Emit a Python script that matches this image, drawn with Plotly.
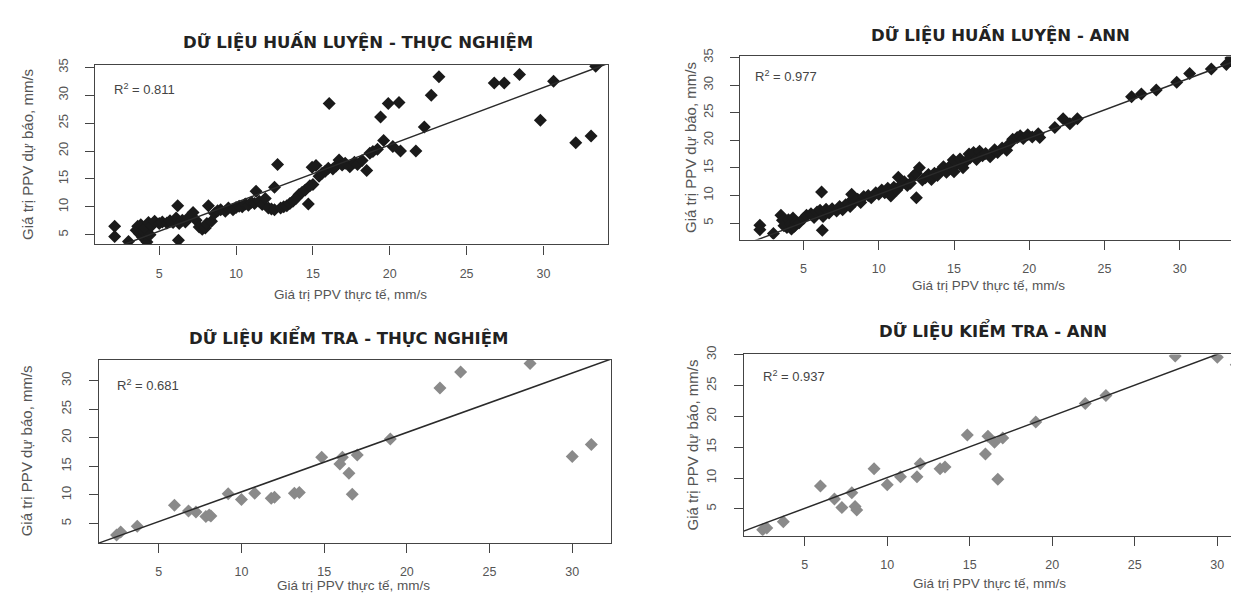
import plotly.graph_objects as go

# ---------------- DATA ----------------
# Training set: actual PPV (x), experimental-formula prediction (y1), ANN prediction (y2)
train_actual = [2.1, 2.1, 3.0, 3.5, 3.6, 3.7, 3.8, 3.9, 4.0, 4.1, 4.2, 4.3, 4.4, 4.5, 4.7,
                5.0, 5.2, 5.5, 5.7, 5.9, 6.1, 6.2, 6.25, 6.3, 6.5, 6.7, 6.9, 7.2, 7.4, 7.6,
                7.8, 8.0, 8.1, 8.2, 8.4, 8.6, 8.8, 9.0, 9.3, 9.5, 9.8, 10.0, 10.2, 10.4, 10.6,
                10.8, 11.0, 11.2, 11.3, 11.5, 11.7, 11.9, 12.1, 12.3, 12.5, 12.5, 12.7, 12.9,
                13.1, 13.3, 13.5, 13.7, 13.9, 14.1, 14.3, 14.5, 14.7, 14.8, 14.95, 15.0, 15.2,
                15.4, 15.6, 15.8, 16.0, 16.06, 16.3, 16.5, 16.7, 16.9, 17.1, 17.4, 17.7, 17.9,
                18.2, 18.5, 18.7, 18.9, 19.2, 19.4, 19.6, 19.9, 20.2, 20.6, 20.7, 21.7, 22.25,
                22.7, 23.2, 26.8, 27.45, 28.44, 29.8, 30.66, 32.1, 33.1, 33.4]
train_exp = [6.5, 4.7, 3.8, 5.8, 6.5, 5.2, 6.8, 4.6, 5.5, 6.2, 3.7, 7.2, 5.0, 6.6, 7.4,
             7.0, 7.3, 7.1, 7.5, 7.2, 8.0, 10.2, 4.0, 7.0, 7.6, 7.3, 8.1, 9.0, 7.6, 6.4,
             6.0, 6.2, 7.0, 10.2, 7.4, 8.8, 9.3, 9.5, 9.2, 9.8, 9.5, 9.9, 10.1, 10.0, 10.5,
             10.3, 10.8, 10.6, 12.8, 11.0, 10.4, 11.5, 9.8, 9.6, 9.5, 13.5, 17.6, 9.8,
             10.0, 10.2, 10.6, 11.0, 11.5, 12.2, 12.6, 13.0, 10.5, 13.8, 17.1, 14.0, 17.4,
             15.5, 16.0, 16.4, 16.9, 28.5, 16.8, 17.3, 18.4, 17.5, 17.8, 17.2, 18.0, 17.6,
             18.3, 16.5, 19.6, 19.9, 20.3, 26.1, 21.9, 28.5, 20.8, 28.7, 20.0, 20.0, 24.3,
             30.0, 33.3, 32.2, 32.2, 33.7, 25.5, 32.5, 21.5, 22.7, 35.2]
train_ann = [4.6, 3.8, 3.1, 6.4, 5.5, 4.5, 5.2, 4.2, 5.6, 4.8, 3.9, 5.9, 4.4, 5.2, 5.0,
             5.8, 6.4, 6.7, 6.0, 7.0, 7.3, 10.6, 3.7, 6.2, 7.5, 6.8, 7.6, 7.2, 8.0, 7.4,
             8.3, 8.6, 8.0, 10.2, 8.9, 9.3, 8.7, 9.8, 10.0, 9.6, 10.5, 10.2, 11.0, 10.5, 11.3,
             9.9, 11.5, 11.0, 13.3, 12.0, 12.5, 11.8, 12.2, 13.5, 9.6, 14.0, 15.0, 12.8,
             13.2, 13.8, 12.9, 14.0, 13.6, 14.5, 15.2, 14.2, 14.8, 15.5, 16.4, 14.3, 15.8,
             16.6, 15.0, 16.2, 17.5, 16.8, 17.8, 16.5, 18.0, 17.2, 17.6, 17.0, 18.3, 17.8,
             18.6, 18.2, 19.4, 20.2, 20.5, 20.8, 20.3, 21.0, 20.6, 21.2, 20.5, 22.3, 23.9,
             23.0, 23.9, 27.9, 28.4, 29.1, 30.5, 32.1, 32.9, 33.75, 34.9]

# Test set
test_actual = [2.45, 2.7, 3.7, 5.95, 6.8, 7.25, 7.85, 8.05, 8.15, 9.2, 10.0, 10.8, 11.8, 12.0,
               13.2, 13.5, 14.85, 15.95, 16.1, 16.5, 16.7, 17.0, 19.0, 22.0, 23.25, 27.45,
               30.0, 31.15]
test_exp = [3.0, 3.5, 4.5, 8.2, 7.2, 7.0, 6.2, 6.5, 6.3, 10.2, 9.2, 10.3, 9.4, 9.6,
            10.3, 10.4, 16.6, 15.4, 16.6, 13.8, 10.1, 17.0, 19.8, 28.7, 31.5, 33.0,
            16.7, 18.8]
test_ann = [1.6, 1.9, 2.9, 8.7, 6.6, 5.2, 7.6, 5.4, 4.8, 11.5, 8.9, 10.2, 10.2, 12.3,
            11.5, 11.8, 17.0, 13.9, 16.8, 15.8, 9.8, 16.5, 19.1, 22.1, 23.4, 29.8,
            29.6, 28.4]

panel_titles = ["DỮ LIỆU HUẤN LUYỆN - THỰC NGHIỆM", "DỮ LIỆU HUẤN LUYỆN - ANN",
                "DỮ LIỆU KIỂM TRA - THỰC NGHIỆM", "DỮ LIỆU KIỂM TRA - ANN"]
r2_values = ["0.811", "0.977", "0.681", "0.937"]
fit_slope = [1.03, 1.02, 1.04, 1.0]
fit_intercept = [0.48, 0.0, 0.13, 0.08]
x_tick_vals = [5, 10, 15, 20, 25, 30]
y_tick_vals_train = [5, 10, 15, 20, 25, 30, 35]
y_tick_vals_test = [5, 10, 15, 20, 25, 30]
x_title = "Giá trị PPV thực tế, mm/s"
y_title = "Giá trị PPV dự báo, mm/s"

# ---------------- LAYOUT ----------------
W, H = 1239, 593
# pixel boxes: left, right, top, bottom
boxes = [(87.3, 600.0, 48.3, 231.0), (732.0, 1239.0, 40.0, 226.0),
         (90.7, 603.3, 348.3, 534.3), (735.7, 1239.0, 342.7, 526.7)]
x_ranges = [[0.84, 34.2], [0.78, 34.47], [1.37, 32.36], [1.3, 31.8]]
y_ranges = [[3.25, 35.5], [2.0, 35.2], [1.55, 33.6], [0.64, 30.05]]
cut_right = [False, True, False, True]

datasets = [(train_actual, train_exp, "#1a1a1a"), (train_actual, train_ann, "#1a1a1a"),
            (test_actual, test_exp, "#8a8a8a"), (test_actual, test_ann, "#8a8a8a")]

title_pos = [(350, 25), (992, 18), (340, 325), (985, 318)]
xtitle_pos = [(342, 282), (980, 273), (345, 577), (982, 575)]
ytitle_pos = [(20, 140), (683, 133), (18, 441), (684, 435)]
r2_pos = [(104, 73), (745, 60), (106.7, 373.3), (753.3, 365)]

fig = go.Figure()
font_fam = "Liberation Sans, Arial, sans-serif"
title_fam = "DejaVu Sans, Liberation Sans, sans-serif"

for i in range(4):
    l, r, t, b = boxes[i]
    sfx = "" if i == 0 else str(i + 1)
    xa = "x" + sfx
    ya = "y" + sfx
    xs, ys, col = datasets[i]
    fig.add_trace(go.Scatter(x=xs, y=ys, mode="markers", xaxis=xa, yaxis=ya,
                             marker=dict(symbol="diamond", size=10, color=col,
                                         line=dict(width=0)),
                             showlegend=False, hoverinfo="x+y"))
    x0, x1 = x_ranges[i]
    fig.add_trace(go.Scatter(x=[x0, x1],
                             y=[fit_intercept[i] + fit_slope[i] * x0,
                                fit_intercept[i] + fit_slope[i] * x1],
                             mode="lines", xaxis=xa, yaxis=ya,
                             line=dict(color="#2a2a2a", width=1.5),
                             showlegend=False, hoverinfo="skip"))
    yticks = y_tick_vals_train if i < 2 else y_tick_vals_test
    fig.layout["xaxis" + sfx] = dict(
        domain=[l / W, r / W], anchor=ya, range=x_ranges[i],
        tickvals=x_tick_vals, ticks="outside", ticklen=9, tickcolor="#444",
        tickfont=dict(size=12.5, color="#555", family=font_fam),
        showline=True, linecolor="#444", linewidth=1.3, mirror=True,
        showgrid=False, zeroline=False, ticklabelstandoff=8)
    fig.layout["yaxis" + sfx] = dict(
        domain=[(H - b) / H, (H - t) / H], anchor=xa, range=y_ranges[i],
        tickvals=yticks, ticks="outside", ticklen=9, tickcolor="#444",
        tickangle=-90,
        tickfont=dict(size=13, color="#555", family=font_fam),
        showline=True, linecolor="#444", linewidth=1.3,
        mirror=False if cut_right[i] else True,
        showgrid=False, zeroline=False, ticklabelstandoff=12)

    # Panel title
    fig.add_annotation(text="<b>" + panel_titles[i] + "</b>", xref="paper", yref="paper",
                       x=title_pos[i][0] / W, y=1 - title_pos[i][1] / H,
                       xanchor="center", yanchor="middle", showarrow=False,
                       font=dict(size=16.5, color="#222", family=title_fam))
    fig.add_annotation(text=x_title, xref="paper", yref="paper",
                       x=xtitle_pos[i][0] / W, y=1 - xtitle_pos[i][1] / H,
                       xanchor="center", yanchor="middle", showarrow=False,
                       font=dict(size=13.5, color="#555", family=font_fam))
    fig.add_annotation(text=y_title, xref="paper", yref="paper",
                       x=ytitle_pos[i][0] / W, y=1 - ytitle_pos[i][1] / H,
                       xanchor="center", yanchor="middle", showarrow=False, textangle=-90,
                       font=dict(size=15, color="#555", family=font_fam))
    fig.add_annotation(text="R<sup>2</sup> = " + r2_values[i], xref="paper", yref="paper",
                       x=r2_pos[i][0] / W, y=1 - r2_pos[i][1] / H,
                       xanchor="left", yanchor="middle", showarrow=False,
                       font=dict(size=13, color="#444", family=font_fam))

fig.update_layout(width=W, height=H, margin=dict(l=0, r=0, t=0, b=0),
                  paper_bgcolor="white", plot_bgcolor="white",
                  font=dict(family=font_fam))

fig.write_html("out.html")
